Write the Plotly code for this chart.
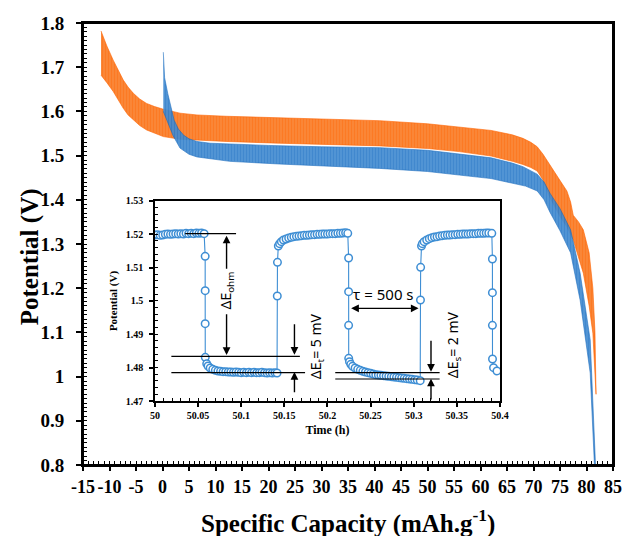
import plotly.graph_objects as go

# ---------------- main chart data (envelopes of the GITT pulses) ----------------
orange_top_x = [-11.6, -10.5, -9.3, -8.3, -7.4, -6.5, -5.5, -4.3, -3.0, -1.5, 0.15, 3.3, 6.5, 12, 22, 30, 41, 50, 56, 62, 66, 68, 69.5, 70.7, 71.8, 73.1, 74.2, 75.2, 76.3, 77.0, 77.5, 78.5, 79.4, 80.5, 81.2, 81.6, 81.8]
orange_top_v = [1.782, 1.748, 1.716, 1.692, 1.671, 1.655, 1.641, 1.628, 1.618, 1.611, 1.605, 1.596, 1.592, 1.589, 1.585, 1.582, 1.579, 1.572, 1.565, 1.557, 1.547, 1.539, 1.530, 1.520, 1.503, 1.478, 1.458, 1.440, 1.420, 1.395, 1.365, 1.350, 1.332, 1.280, 1.200, 1.100, 0.960]
orange_bot_x = [-11.6, -10.5, -9.3, -8.3, -7.4, -6.5, -5.5, -4.3, -3.0, -1.5, 0.15, 3.3, 6.5, 12, 22, 30, 41, 50, 56, 62, 66, 68, 69.5, 70.7, 71.8, 73.1, 75, 76.3, 77.5, 79.4, 80.5, 81.2, 81.6, 81.8]
orange_bot_v = [1.682, 1.665, 1.645, 1.625, 1.607, 1.592, 1.581, 1.568, 1.558, 1.550, 1.543, 1.537, 1.535, 1.532, 1.528, 1.525, 1.522, 1.516, 1.509, 1.499, 1.487, 1.480, 1.473, 1.465, 1.445, 1.405, 1.362, 1.339, 1.309, 1.234, 1.160, 1.098, 1.000, 0.960]

blue_top_x = [0.15, 0.4, 1.0, 1.5, 2.2, 3.0, 4.0, 5, 6.5, 9, 12.7, 20, 30, 41, 50, 56, 62, 66, 68, 70.7, 72, 73.1, 75, 77, 78.8, 80.7, 81.7]
blue_top_v = [1.734, 1.676, 1.640, 1.612, 1.580, 1.560, 1.546, 1.538, 1.532, 1.528, 1.526, 1.523, 1.520, 1.518, 1.512, 1.504, 1.495, 1.483, 1.475, 1.458, 1.440, 1.415, 1.380, 1.332, 1.234, 1.083, 0.800]
blue_bot_x = [0.15, 1.0, 2.0, 3.3, 5, 6.5, 9, 12.7, 22, 30, 41, 50, 56, 62, 66, 68.5, 70.7, 72, 73.1, 75, 77, 78.8, 80.7, 81.5]
blue_bot_v = [1.600, 1.575, 1.545, 1.517, 1.503, 1.497, 1.492, 1.487, 1.481, 1.476, 1.471, 1.464, 1.456, 1.448, 1.438, 1.431, 1.420, 1.400, 1.372, 1.330, 1.280, 1.173, 1.008, 0.800]

x_tick_vals = [-15, -10, -5, 0, 5, 10, 15, 20, 25, 30, 35, 40, 45, 50, 55, 60, 65, 70, 75, 80, 85]
x_tick_text = ["-15", "-10", "-5", "0", "5", "10", "15", "20", "25", "30", "35", "40", "45", "50", "55", "60", "65", "70", "75", "80", "85"]
y_tick_vals = [0.8, 0.9, 1.0, 1.1, 1.2, 1.3, 1.4, 1.5, 1.6, 1.7, 1.8]
y_tick_text = ["0.8", "0.9", "1", "1.1", "1.2", "1.3", "1.4", "1.5", "1.6", "1.7", "1.8"]

# ---------------- inset data ----------------
inset_t = [
    50.000, 50.003, 50.006, 50.009, 50.012, 50.015, 50.018, 50.021, 50.024, 50.027,
    50.030, 50.033, 50.036, 50.039, 50.042, 50.045, 50.048, 50.051, 50.054, 50.057,
    50.0582, 50.0582, 50.0582, 50.0583,
    50.0600, 50.0615, 50.0640, 50.0670, 50.0700, 50.0730, 50.0760, 50.0790, 50.0820,
    50.085, 50.088, 50.091, 50.094, 50.097, 50.100, 50.103, 50.106, 50.109, 50.112,
    50.115, 50.118, 50.121, 50.124, 50.127, 50.130, 50.133, 50.136, 50.139, 50.1415,
    50.1418, 50.1420, 50.1430, 50.1445, 50.1465, 50.149, 50.152, 50.155, 50.158, 50.161,
    50.164, 50.167, 50.170, 50.173, 50.176, 50.179, 50.182, 50.185, 50.188, 50.191,
    50.194, 50.197, 50.200, 50.203, 50.206, 50.209, 50.212, 50.215, 50.218, 50.221, 50.2235,
    50.2245, 50.2245, 50.2245, 50.2246,
    50.2255, 50.2270, 50.229, 50.232, 50.235, 50.238, 50.241, 50.244, 50.247, 50.250,
    50.253, 50.256, 50.259, 50.262, 50.265, 50.268, 50.271, 50.274, 50.277, 50.280,
    50.283, 50.286, 50.289, 50.292, 50.295, 50.298, 50.301, 50.304, 50.3075,
    50.3078, 50.3080, 50.3090, 50.3100, 50.312, 50.315, 50.318, 50.321, 50.324, 50.327,
    50.330, 50.333, 50.336, 50.339, 50.342, 50.345, 50.348, 50.351, 50.354, 50.357,
    50.360, 50.363, 50.366, 50.369, 50.372, 50.375, 50.378, 50.381, 50.384, 50.387, 50.3905,
    50.3912, 50.3912, 50.3912, 50.3913, 50.3925, 50.3965,
]
inset_v = [
    1.5198, 1.5199, 1.5197, 1.5198, 1.5200, 1.5201, 1.5200, 1.5201, 1.5202, 1.5201,
    1.5202, 1.5201, 1.5203, 1.5202, 1.5203, 1.5202, 1.5204, 1.5203, 1.5204, 1.5202,
    1.5134, 1.5031, 1.4932, 1.4831,
    1.4812, 1.4805, 1.4799, 1.4795, 1.4792, 1.4790, 1.4789, 1.4788, 1.4788,
    1.4787, 1.4787, 1.4786, 1.4787, 1.4786, 1.4785, 1.4786, 1.4785, 1.4786, 1.4785,
    1.4786, 1.4785, 1.4785, 1.4786, 1.4785, 1.4784, 1.4785, 1.4784, 1.4785, 1.4784,
    1.5015, 1.5116, 1.5165, 1.5172, 1.5178, 1.5183, 1.5186, 1.5189, 1.5191, 1.5193,
    1.5194, 1.5195, 1.5196, 1.5197, 1.5197, 1.5198, 1.5199, 1.5199, 1.5200, 1.5200,
    1.5201, 1.5201, 1.5201, 1.5202, 1.5202, 1.5202, 1.5203, 1.5203, 1.5204, 1.5205, 1.5203,
    1.5129, 1.5028, 1.4927, 1.4828,
    1.4818, 1.4810, 1.4804, 1.4799, 1.4795, 1.4792, 1.4789, 1.4787, 1.4785, 1.4783,
    1.4781, 1.4779, 1.4778, 1.4777, 1.4776, 1.4775, 1.4774, 1.4773, 1.4772, 1.4771,
    1.4770, 1.4769, 1.4768, 1.4767, 1.4766, 1.4765, 1.4764, 1.4763, 1.4761,
    1.5003, 1.5101, 1.5165, 1.5172, 1.5178, 1.5183, 1.5187, 1.5190, 1.5192, 1.5193,
    1.5195, 1.5196, 1.5197, 1.5198, 1.5198, 1.5199, 1.5199, 1.5200, 1.5200, 1.5201,
    1.5201, 1.5201, 1.5202, 1.5202, 1.5202, 1.5203, 1.5203, 1.5203, 1.5204, 1.5204, 1.5203,
    1.5126, 1.5025, 1.4927, 1.4826, 1.4800, 1.4790,
]

ORANGE_DARK = "#FF6300"
ORANGE_LIGHT = "#F89048"
BLUE_DARK = "#1166BC"
BLUE_LIGHT = "#5196D8"
INSET_BLUE = "#3E8ED4"
SERIF = "Liberation Serif"
SANS = "Noto Sans"

fig = go.Figure()

# Orange band (polygon from its envelopes)
fig.add_trace(go.Scatter(
    x=orange_top_x + orange_bot_x[::-1],
    y=orange_top_v + orange_bot_v[::-1],
    mode="lines", fill="toself",
    line=dict(color=ORANGE_DARK, width=0.6),
    fillcolor=ORANGE_LIGHT,
    fillpattern=dict(shape="|", fgcolor=ORANGE_DARK, bgcolor=ORANGE_LIGHT, size=3, solidity=0.65),
    hoverinfo="skip", showlegend=False,
))
# Blue band
fig.add_trace(go.Scatter(
    x=blue_top_x + blue_bot_x[::-1],
    y=blue_top_v + blue_bot_v[::-1],
    mode="lines", fill="toself",
    line=dict(color=BLUE_DARK, width=0.6),
    fillcolor=BLUE_LIGHT,
    fillpattern=dict(shape="|", fgcolor=BLUE_DARK, bgcolor=BLUE_LIGHT, size=3, solidity=0.65),
    opacity=0.92, hoverinfo="skip", showlegend=False,
))

# Inset trace
fig.add_trace(go.Scatter(
    x=inset_t, y=inset_v, xaxis="x2", yaxis="y2",
    mode="lines+markers",
    line=dict(color=INSET_BLUE, width=1.1),
    marker=dict(symbol="circle", size=7.5, color="white", line=dict(color=INSET_BLUE, width=1.5)),
    hoverinfo="skip", showlegend=False,
))

ax_common = dict(showgrid=False, zeroline=False, showline=True, linecolor="#000000",
                 mirror=True, automargin=False)

fig.update_layout(
    template="simple_white",
    width=625, height=536,
    margin=dict(l=83, r=12, t=23, b=71, autoexpand=False),
    paper_bgcolor="white", plot_bgcolor="white",
    xaxis=dict(
        **ax_common, range=[-15, 85], linewidth=2,
        tickmode="array", tickvals=x_tick_vals, ticktext=x_tick_text, tickangle=0,
        ticks="outside", ticklen=4, tickwidth=2, tickcolor="black",
        minor=dict(ticks="inside", dtick=1, tick0=-15, ticklen=4, tickwidth=1.2, tickcolor="black"),
        tickfont=dict(family=SERIF, size=18, color="black", weight="bold"),
    ),
    yaxis=dict(
        **ax_common, range=[0.8, 1.8], linewidth=2,
        tickmode="array", tickvals=y_tick_vals, ticktext=y_tick_text,
        ticks="outside", ticklen=5, tickwidth=2, tickcolor="black", ticklabelstandoff=8,
        minor=dict(ticks="inside", dtick=0.01, tick0=0.8, ticklen=4, tickwidth=1.1, tickcolor="black"),
        tickfont=dict(family=SERIF, size=19, color="black", weight="bold"),
    ),
    xaxis2=dict(
        **ax_common, domain=[0.1358, 0.7868], anchor="y2", range=[50, 50.4], linewidth=1.5,
        dtick=0.05, tick0=50, ticks="outside", ticklen=4, tickwidth=1.5, tickcolor="black",
        minor=dict(ticks="inside", dtick=0.01, ticklen=3, tickwidth=1, tickcolor="black"),
        tickfont=dict(family=SERIF, size=10, color="black", weight="bold"),
        title=dict(text="Time (h)", standoff=6,
                   font=dict(family=SERIF, size=12, color="black", weight="bold")),
    ),
    yaxis2=dict(
        **ax_common, domain=[0.1448, 0.5973], anchor="x2", range=[1.47, 1.53], linewidth=1.5,
        dtick=0.01, tick0=1.47, ticks="outside", ticklen=4, tickwidth=1.5, tickcolor="black",
        ticklabelstandoff=4,
        minor=dict(ticks="inside", dtick=0.002, ticklen=3, tickwidth=1, tickcolor="black"),
        tickfont=dict(family=SERIF, size=10, color="black", weight="bold"),
        title=dict(text="Potential (V)", standoff=6,
                   font=dict(family=SERIF, size=11, color="black", weight="bold")),
    ),
)

# main axis titles
fig.add_annotation(x=0.5, y=-0.127, xref="paper", yref="paper", showarrow=False,
                   text="Specific Capacity (mAh.g<sup>-1</sup>)", yanchor="middle",
                   font=dict(family=SERIF, size=25, color="black", weight="bold"))
fig.add_annotation(x=-0.1, y=0.47, xref="paper", yref="paper", showarrow=False,
                   text="Potential (V)", textangle=-90, xanchor="center", yanchor="middle",
                   font=dict(family=SERIF, size=25, color="black", weight="bold"))

# white background for inset
fig.add_shape(type="rect", xref="x2 domain", yref="y2 domain", x0=0, x1=1, y0=0, y1=1,
              fillcolor="white", line=dict(width=0), layer="below", opacity=1)

# main plot frame
fig.add_shape(type="rect", xref="x domain", yref="y domain", x0=0, x1=1, y0=0, y1=1,
              fillcolor="rgba(0,0,0,0)", line=dict(color="black", width=2), layer="above", opacity=1)

# reference lines in inset
for (x0, x1, yv) in [(50.035, 50.094, 1.5202), (50.019, 50.168, 1.4834), (50.019, 50.174, 1.4785),
                     (50.209, 50.330, 1.4785), (50.209, 50.330, 1.4766)]:
    fig.add_shape(type="line", xref="x2", yref="y2", x0=x0, x1=x1, y0=yv, y1=yv,
                  line=dict(color="black", width=1.2), opacity=1)

def arrow(xh, yh, xt, yt, both=False):
    fig.add_annotation(x=xh, y=yh, ax=xt, ay=yt, xref="x2", yref="y2", axref="x2", ayref="y2",
                       text="", showarrow=True, arrowhead=2, arrowsize=1.1, arrowwidth=1.4,
                       arrowcolor="black", arrowside="end+start" if both else "end")

arrow(50.083, 1.5196, 50.083, 1.5092)
arrow(50.083, 1.4838, 50.083, 1.4965)
arrow(50.1617, 1.4839, 50.1617, 1.4935)
arrow(50.1617, 1.4787, 50.1617, 1.4722)
arrow(50.320, 1.4788, 50.320, 1.4885)
arrow(50.320, 1.4767, 50.320, 1.4700)
arrow(50.3056, 1.4978, 50.2257, 1.4978, both=True)

def label(x, y, txt, angle=-90, size=14):
    fig.add_annotation(x=x, y=y, xref="x2", yref="y2", text=txt, showarrow=False, textangle=angle,
                       font=dict(family=SANS, size=size, color="black"))

label(50.083, 1.5030, "ΔE<sub>ohm</sub>")
label(50.188, 1.4865, "ΔE<sub>t</sub>= 5 mV")
label(50.347, 1.4868, "ΔE<sub>s</sub>= 2 mV")
label(50.265, 1.5022, "τ = 500 s", angle=0, size=15)

fig.write_html("out.html", config={"displayModeBar": False},
               post_script="document.body.style.margin='0';document.body.style.overflow='hidden';")
